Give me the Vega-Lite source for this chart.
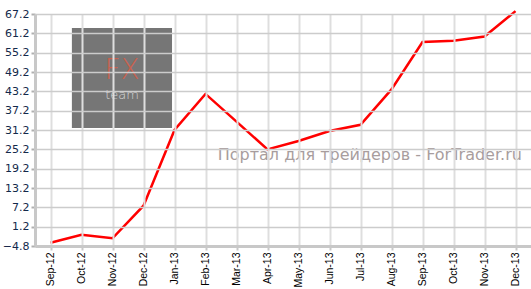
{
  "$schema": "https://vega.github.io/schema/vega-lite/v6.json",
  "width": 496,
  "height": 232,
  "autosize": "none",
  "padding": {"left": 35, "top": 14, "right": 0, "bottom": 43},
  "background": "white",
  "config": {"view": {"stroke": null}},
  "layer": [
    {
      "data": {"values": [{}]},
      "mark": {"type": "rect", "color": "#767676"},
      "encoding": {
        "x": {"datum": 1.19, "type": "quantitative", "scale": {"domain": [0, 16]}, "axis": null},
        "x2": {"datum": 4.42},
        "y": {"datum": 62.86, "type": "quantitative", "title": null},
        "y2": {"datum": 31.82}
      }
    },
    {
      "data": {"values": [{}]},
      "mark": {"type": "text", "text": "FX", "font": "DejaVu Sans", "fontWeight": 200, "fontSize": 28, "color": "#c9624f", "align": "center", "baseline": "alphabetic"},
      "encoding": {
        "x": {"datum": 2.81, "type": "quantitative", "scale": {"domain": [0, 16]}, "axis": null},
        "y": {"datum": 47.0, "type": "quantitative", "title": null}
      }
    },
    {
      "data": {"values": [{}]},
      "mark": {"type": "text", "text": "team", "font": "DejaVu Sans", "fontWeight": 200, "fontSize": 13, "color": "#d6d6d6", "align": "center", "baseline": "alphabetic"},
      "encoding": {
        "x": {"datum": 2.81, "type": "quantitative", "scale": {"domain": [0, 16]}, "axis": null},
        "y": {"datum": 40.8, "type": "quantitative", "title": null}
      }
    },
    {
      "data": {"values": [{}]},
      "mark": {"type": "text", "text": "Портал для трейдеров - ForTrader.ru", "font": "DejaVu Sans", "fontSize": 16, "color": "#a89d9d", "align": "center", "baseline": "middle"},
      "encoding": {
        "x": {"datum": 10.8, "type": "quantitative", "scale": {"domain": [0, 16]}, "axis": null},
        "y": {"datum": 23.44, "type": "quantitative", "title": null}
      }
    },
    {
      "data": {
        "values": [
          {"month": "Sep-12", "value": -3.8},
          {"month": "Oct-12", "value": -1.3},
          {"month": "Nov-12", "value": -2.4},
          {"month": "Dec-12", "value": 7.7},
          {"month": "Jan-13", "value": 31.2},
          {"month": "Feb-13", "value": 42.4},
          {"month": "Mar-13", "value": 33.8},
          {"month": "Apr-13", "value": 25.2},
          {"month": "May-13", "value": 27.8},
          {"month": "Jun-13", "value": 30.9},
          {"month": "Jul-13", "value": 32.8},
          {"month": "Aug-13", "value": 43.8},
          {"month": "Sep-13", "value": 58.5},
          {"month": "Oct-13", "value": 58.9},
          {"month": "Nov-13", "value": 60.2},
          {"month": "Dec-13", "value": 68.1}
        ]
      },
      "mark": {"type": "line", "color": "#ff0000", "strokeWidth": 2.5, "clip": false},
      "encoding": {
        "x": {
          "field": "month", "type": "nominal", "sort": null,
          "scale": {"type": "point", "padding": 0.5},
          "axis": {
            "title": null, "labelAngle": -90, "labelAlign": "right", "labelBaseline": "middle",
            "labelFont": "Liberation Sans", "labelFontSize": 10.5, "labelColor": "#000000",
            "labelPadding": 2, "tickSize": 4, "tickColor": "#c8c8c8", "tickWidth": 2,
            "labelOverlap": false,
            "domainColor": "#c8c8c8", "domainWidth": 3,
            "grid": true, "gridColor": "#dedede", "gridWidth": 2, "zindex": 1
          }
        },
        "y": {
          "field": "value", "type": "quantitative", "title": null,
          "scale": {"domain": [-4.8, 67.2], "nice": false, "zero": false},
          "axis": {
            "values": [-4.8, 1.2, 7.2, 13.2, 19.2, 25.2, 31.2, 37.2, 43.2, 49.2, 55.2, 61.2, 67.2],
            "tickCount": 13,
            "format": ".1f", "labelOverlap": false,
            "labelFont": "DejaVu Sans", "labelFontSize": 11, "labelColor": "#13294b",
            "labelPadding": 2, "tickSize": 4, "tickColor": "#b0b0b0", "tickWidth": 2,
            "domainColor": "#c8c8c8", "domainWidth": 3,
            "grid": true, "gridColor": "#cccccc", "gridWidth": 1.5, "zindex": 1
          }
        }
      }
    }
  ],
  "resolve": {"scale": {"x": "independent"}}
}
